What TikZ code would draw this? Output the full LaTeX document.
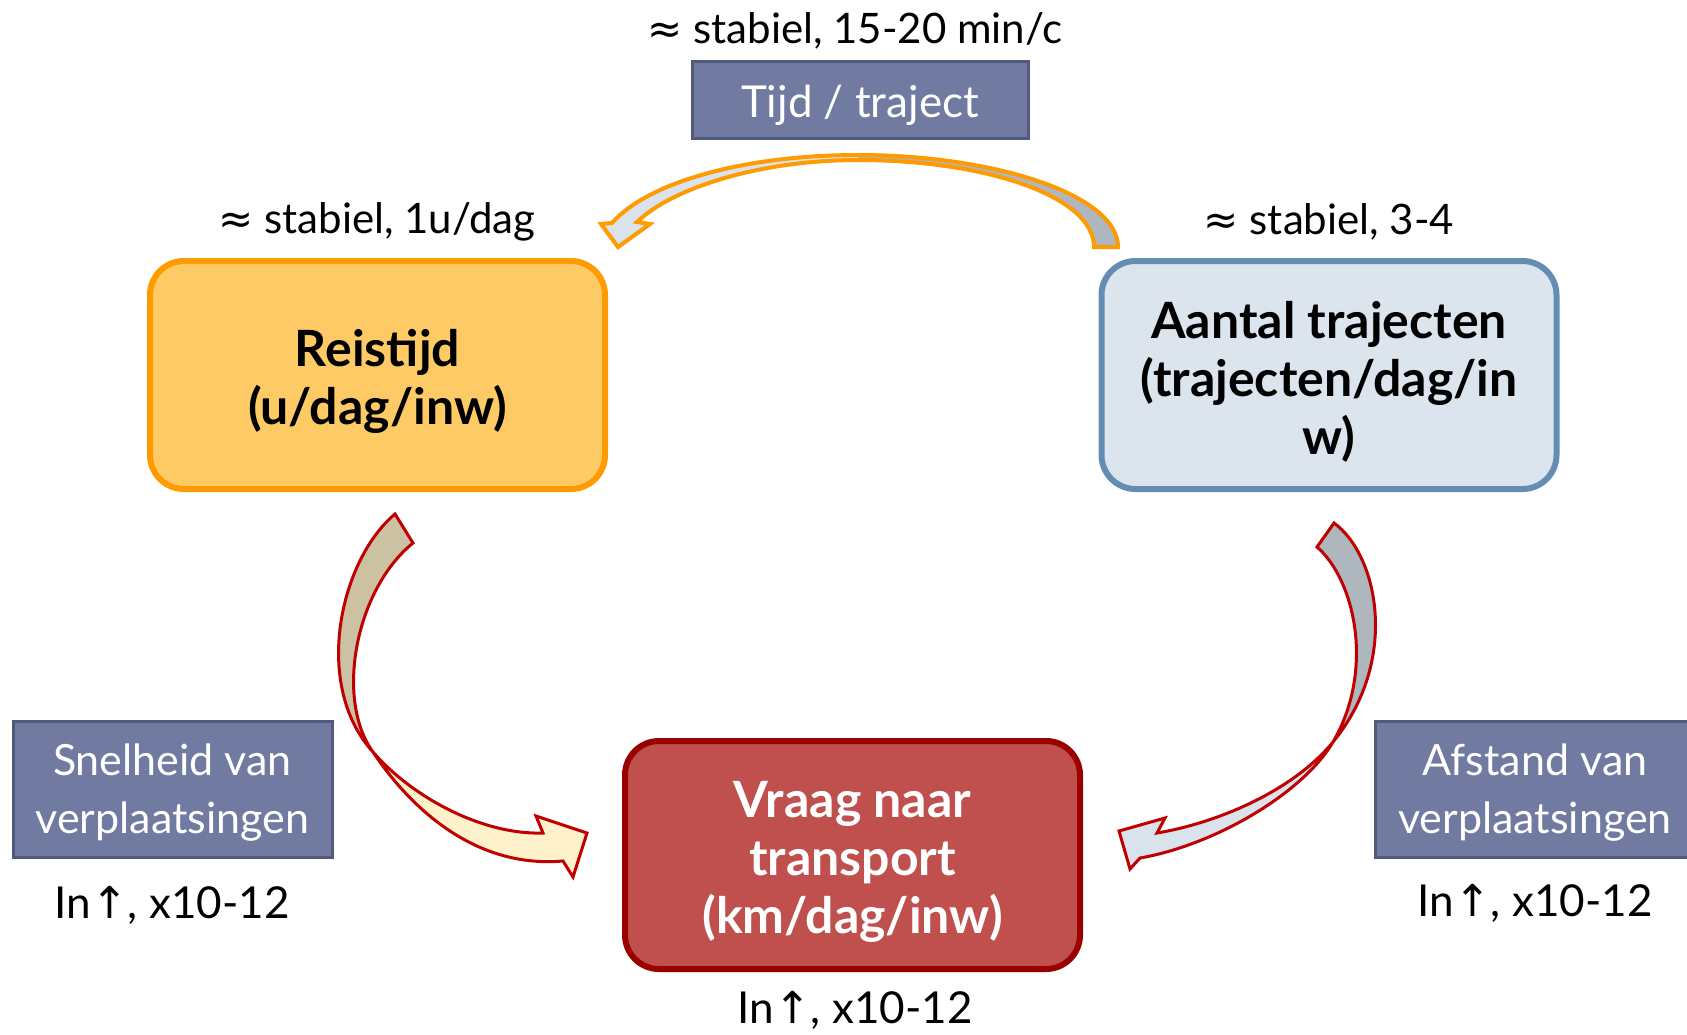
\documentclass[tikz,border=0pt]{standalone}
\usepackage{fontspec}
\setmainfont{Lato}
\newfontfamily\symf{DejaVu Sans}
\definecolor{orfill}{HTML}{FECA66}
\definecolor{orline}{HTML}{FF9A00}
\definecolor{blfill}{HTML}{DCE5EE}
\definecolor{blline}{HTML}{658DB4}
\definecolor{rdfill}{HTML}{C0504D}
\definecolor{rdline}{HTML}{9A0000}
\definecolor{slfill}{HTML}{717AA1}
\definecolor{slline}{HTML}{525A7C}
\definecolor{arrred}{HTML}{C00000}
\definecolor{tanfill}{HTML}{CCC2A3}
\definecolor{creamfill}{HTML}{FFF1CC}
\definecolor{greyfill}{HTML}{AEB6BE}
\definecolor{lbfill}{HTML}{DAE3EC}
\begin{document}
\begin{tikzpicture}[x=1pt,y=-1pt,
  bigbox/.style={rounded corners=34pt, line width=6pt, minimum width=455pt, minimum height=228pt, inner sep=0pt},
  bigtext/.style={align=center, inner sep=0pt, font=\fontsize{50}{58}\selectfont\bfseries},
  slatebox/.style={fill=slfill, draw=slline, line width=3pt, minimum width=319pt, minimum height=136pt, inner sep=0pt},
  slatetext/.style={align=center, inner sep=0pt, text=white, font=\fontsize{43}{58}\selectfont},
  lbl/.style={font=\fontsize{42}{48}\selectfont, inner sep=0pt},
  lnlbl/.style={font=\fontsize{44}{48}\selectfont, inner sep=0pt},
  arrline/.style={draw=arrred, line width=3pt, line join=miter},
  toparrline/.style={draw=orline, line width=4pt, line join=miter}]
\useasboundingbox (0,0) rectangle (1687,1034);

% ---- top curved arrow (Aantal -> Reistijd)
\fill[greyfill] (1118,247) .. controls (1118,195) and (995,155) .. (858,155) -- (858,160)
   .. controls (985,160) and (1094,196) .. (1094,247) -- cycle;
\fill[lbfill] (858,155) .. controls (745,155) and (648,182) .. (612,223) -- (601,224) -- (618,247)
   -- (650,224) -- (637,222) .. controls (672,188) and (760,160) .. (858,160) -- cycle;
\path[toparrline] (1118,247) .. controls (1118,195) and (995,155) .. (858,155)
   .. controls (745,155) and (648,182) .. (612,223) -- (601,224) -- (618,247)
   -- (650,224) -- (637,222) .. controls (672,188) and (760,160) .. (858,160)
   .. controls (985,160) and (1094,196) .. (1094,247) -- cycle;

% ---- left curved arrow (Reistijd -> Vraag)
\coordinate (LX) at (373,752);
\path[fill=tanfill, arrline] (395,514) -- (413,543) .. controls (355,590) and (335,700) .. (LX)
   .. controls (312,685) and (340,560) .. (395,514) -- cycle;
\path[fill=creamfill, arrline] (LX) .. controls (410,795) and (480,835) .. (543,833) -- (536,816) -- (587,833)
   -- (573,877) -- (563,861) .. controls (460,870) and (395,785) .. (LX) -- cycle;

% ---- right curved arrow (Aantal -> Vraag)
\coordinate (RX) at (1333,742);
\path[fill=greyfill, arrline] (1334,523) -- (1317,547) .. controls (1355,580) and (1375,670) .. (RX)
   .. controls (1400,660) and (1378,555) .. (1334,523) -- cycle;
\path[fill=lbfill, arrline] (RX) .. controls (1293,791) and (1217,823) .. (1157,833) -- (1165,818) -- (1119,831)
   -- (1130,869) -- (1140,858) .. controls (1215,845) and (1303,793) .. (RX) -- cycle;

% ---- main boxes
\node[bigbox, fill=orfill, draw=orline] (reis) at (377.5,375) {};
\node[bigtext] (reist) at ([yshift=-6.5pt]reis.center) {Reistijd\\(u/dag/inw)};
\node[bigbox, fill=blfill, draw=blline] (aant) at (1329,375) {};
\node[bigtext] (aantt) at ([yshift=-6.5pt]aant.center) {Aantal trajecten\\(trajecten/dag/in\\w)};
\node[bigbox, fill=rdfill, draw=rdline] (vraag) at (852.5,855) {};
\node[bigtext, text=white] (vraagt) at ([yshift=-6.5pt]vraag.center) {Vraag naar\\transport\\(km/dag/inw)};

% ---- slate boxes
\node[slatebox, minimum width=336pt, minimum height=77pt] (tijd) at (860,99.5) {};
\node[slatetext, font=\fontsize{44}{58}\selectfont] (tijdt) at ([yshift=-5.4pt]tijd.center) {Tijd / traject};
\node[slatebox] (snel) at (172.5,789) {};
\node[slatetext] (snelt) at ([yshift=-4pt]snel.center) {Snelheid van\\verplaatsingen};
\node[slatebox] (afst) at (1535,789) {};
\node[slatetext] (afstt) at ([yshift=-4pt]afst.center) {Afstand van\\verplaatsingen};

% ---- labels
\node[lbl] (ltop) at (855,30.5) {{\symf ≈} stabiel, 15-20 min/c};
\node[lbl] (lreis) at (377,221.5) {{\symf ≈} stabiel, 1u/dag};
\node[lbl] (laant) at (1329,221.5) {{\symf ≈} stabiel, 3-4};
\node[lnlbl] (lsnel) at (172,905.5) {In{\symf ↑}, x10-12};
\node[lnlbl] (lafst) at (1535,903.5) {In{\symf ↑}, x10-12};
\node[lnlbl] (lvraag) at (855,1010) {In{\symf ↑}, x10-12};
\end{tikzpicture}
\end{document}
